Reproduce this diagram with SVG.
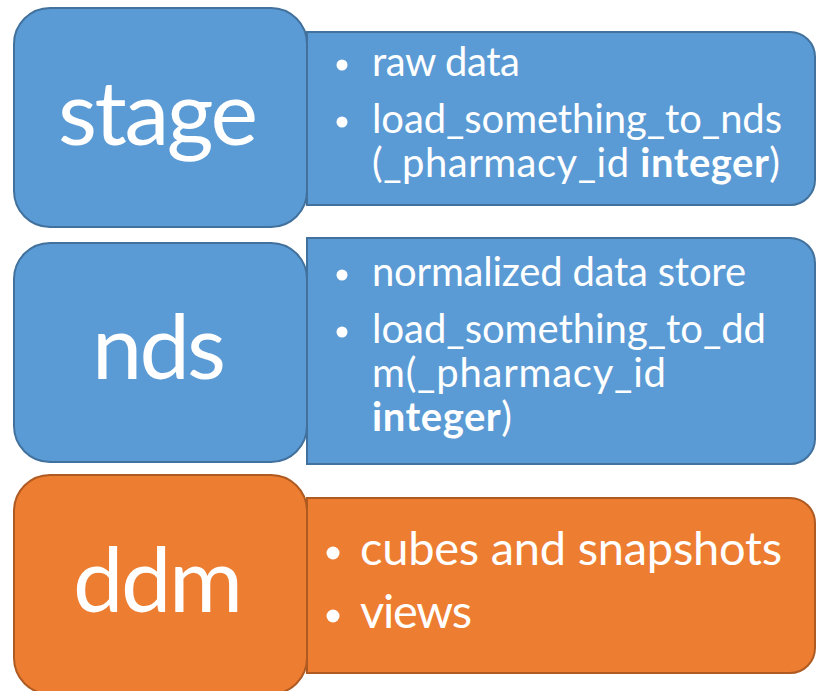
<svg xmlns="http://www.w3.org/2000/svg" width="816" height="691" viewBox="0 0 816 691">
  <style>
    .blue { fill: #5B9BD5; stroke: #41719C; stroke-width: 2; }
    .orange { fill: #ED7D31; stroke: #AE5A21; stroke-width: 2; }
    .title { font-family: Lato, "Liberation Sans", sans-serif; fill: #FFFFFF; font-size: 90px; text-anchor: middle; }
    .item { font-family: Lato, "Liberation Sans", sans-serif; fill: #FFFFFF; font-size: 40px; }
    .item-lg { font-family: Lato, "Liberation Sans", sans-serif; fill: #FFFFFF; font-size: 47px; }
    .dot { fill: #FFFFFF; }
    b, .b { font-weight: bold; }
  </style>
  <rect width="816" height="691" fill="#FFFFFF"/>

  <!-- stage layer -->
  <g id="stage">
    <path class="blue" d="M307,32 H790 A25,25 0 0 1 815,57 V180 A25,25 0 0 1 790,205 H307 Z"/>
    <rect class="blue" x="14" y="8" width="293" height="219" rx="36" ry="36"/>
    <text class="title" x="158" y="145" textLength="200">stage</text>
    <circle class="dot" cx="342" cy="65" r="5.5"/>
    <text class="item" x="372" y="76" textLength="148">raw data</text>
    <circle class="dot" cx="342" cy="122" r="5.5"/>
    <text class="item" x="372" y="133" textLength="410">load_something_to_nds</text>
    <text class="item" x="372" y="177" textLength="408">(_pharmacy_id <tspan class="b">integer</tspan>)</text>
  </g>

  <!-- nds layer -->
  <g id="nds">
    <path class="blue" d="M307,238 H790 A25,25 0 0 1 815,263 V439 A25,25 0 0 1 790,464 H307 Z"/>
    <rect class="blue" x="14" y="243" width="293" height="219" rx="36" ry="36"/>
    <text class="title" x="159" y="379" textLength="134">nds</text>
    <circle class="dot" cx="342" cy="275" r="5.5"/>
    <text class="item" x="372" y="286" textLength="374">normalized data store</text>
    <circle class="dot" cx="342" cy="332" r="5.5"/>
    <text class="item" x="372" y="343" textLength="394">load_something_to_dd</text>
    <text class="item" x="372" y="387" textLength="294">m(_pharmacy_id</text>
    <text class="item b" x="372" y="431" textLength="140">integer<tspan font-weight="normal">)</tspan></text>
  </g>

  <!-- ddm layer -->
  <g id="ddm">
    <path class="orange" d="M307,498 H790 A25,25 0 0 1 815,523 V648 A25,25 0 0 1 790,673 H307 Z"/>
    <rect class="orange" x="14" y="475" width="293" height="219" rx="36" ry="36"/>
    <text class="title" x="158" y="612" textLength="170">ddm</text>
    <circle class="dot" cx="333" cy="553" r="6.5"/>
    <text class="item-lg" x="360" y="565" textLength="422">cubes and snapshots</text>
    <circle class="dot" cx="333" cy="616" r="6.5"/>
    <text class="item-lg" x="360" y="628" textLength="112">views</text>
  </g>
</svg>
